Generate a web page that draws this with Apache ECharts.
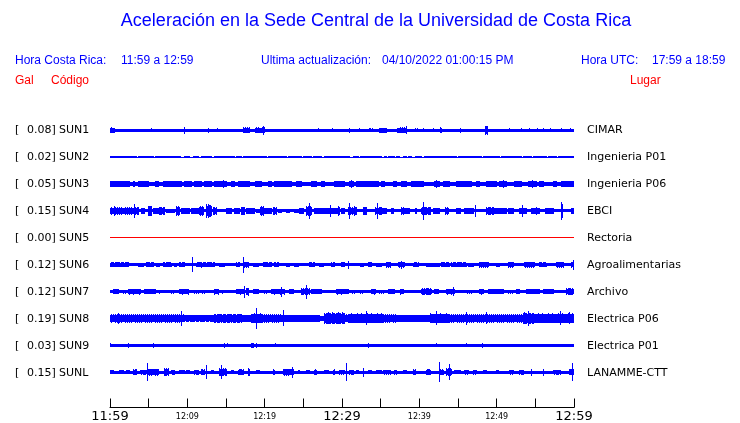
<!DOCTYPE html>
<html><head><meta charset="utf-8">
<script src="https://cdn.jsdelivr.net/npm/echarts@6/dist/echarts.min.js"></script>
<style>html,body{margin:0;padding:0;background:#fff}#c{width:740px;height:423px}</style>
</head><body><div id="c"></div>
<script>
// station metadata
var codes  = ['SUN1','SUN2','SUN3','SUN4','SUN5','SUN6','SUN7','SUN8','SUN9','SUNL'];
var galMax = ['0.08','0.02','0.05','0.15','0.00','0.12','0.12','0.19','0.03','0.15'];
var places = ['CIMAR','Ingenieria P01','Ingenieria P06','EBCI','Rectoria','Agroalimentarias','Archivo','Electrica P06','Electrica P01','LANAMME-CTT'];
// background trace half-amplitude (display units)
var baseAmp = [1.5, 0.5, 2, 1.7, 0, 1.5, 1.5, 2.5, 1.5, 1.5];
// minutes after 11:59 for the time axis
var tickMinutes = [0,5,10,15,20,25,30,35,40,45,50,55,60];
// burst events: [start minute, end minute, half-amplitude]
var sun1 = [[0,0.6,3],[5.4,5.4,2],[9.6,9.6,3.5],[12.8,12.8,2.5],[13.9,13.9,2],[17.3,18,3],[18.8,20,3],[19.8,19.8,4.5],[26.9,26.9,2],[28.8,28.8,2],[31,31,2.5],[32.3,32.3,2],[33.6,34,2],[34.9,35.8,2.5],[37.2,38.4,3],[38.3,38.3,4],[39.4,39.8,2],[40.6,40.6,2],[41.8,41.8,2],[42.7,42.9,3],[45.3,45.3,2.5],[48.6,48.8,5],[51.7,51.7,2],[53.2,53.2,2],[54.3,54.3,2],[55.3,55.3,2],[56,56,2],[56.9,56.9,2],[58.4,58.4,2],[59.5,59.5,2]];
var sun2 = [[0,0.43,1.2],[0.64,3.44,1.2],[3.66,5.6,1.2],[5.82,6.89,1.2],[7.11,8.19,1.2],[8.4,9.18,1.2],[9.69,10.34,1.2],[10.77,11.5,1.2],[11.85,13.14,1.2],[13.57,14.0,1.2],[14.22,16.16,1.2],[16.37,17.02,1.2],[17.24,19.82,1.2],[20.04,20.25,1.2],[20.47,22.84,1.2],[23.06,24.78,1.2],[24.99,26.07,1.2],[26.29,27.37,1.2],[27.8,30.38,1.2],[30.17,31.03,1.2],[31.46,32.11,1.2],[32.33,35.13,1.2],[35.56,35.77,1.2],[35.99,36.85,1.2],[37.07,37.5,1.2],[37.93,38.36,1.2],[38.58,39.01,1.2],[39.44,40.3,1.2],[40.73,44.83,1.2],[45.04,48.06,1.2],[48.27,49.57,1.2],[49.78,50.43,1.2],[50.64,53.23,1.2],[53.45,54.52,1.2],[54.74,55.38,1.2],[55.6,56.46,1.2],[56.68,57.76,1.2],[57.97,58.62,1.2],[58.83,60,1.2]];
var sun3 = [[0,2.58,3],[3.01,3.23,3],[3.66,4.95,3],[5.82,6.25,3],[6.89,9.26,3],[9.69,10.56,3],[10.99,11.85,3],[12.28,13.14,3],[13.57,15.08,3],[14.65,14.65,3.7],[15.73,16.16,3],[16.59,18.1,3],[18.75,19.61,3],[20.47,20.9,3],[21.33,23.49,3],[24.13,24.78,3],[26.07,26.72,3],[27.37,27.8,3],[29.09,30.38,3],[31.03,31.46,3],[31.25,31.25,3.7],[31.9,34.7,3],[35.13,35.56,3],[36.64,37.07,3],[37.71,38.36,3],[39.01,40.52,3],[42.02,42.67,3],[42.24,42.24,3.7],[43.1,43.96,3],[44.83,46.76,3],[47.41,47.84,3],[48.7,49.99,3],[50.43,51.29,3],[50.86,50.86,3.7],[52.37,53.23,3],[54.09,55.17,3],[54.65,54.65,3.7],[55.6,56.03,3],[57.32,57.76,3],[58.4,60,3]];
var sun4 = [[0,3.66,3.7],[0.64,0.64,5],[3.14,3.14,7.3],[3.66,3.66,4],[4.09,4.52,3.5],[4.95,5.38,5.5],[5.6,6.25,3.5],[6.46,7.11,4],[7.32,8.4,2.5],[8.62,9.05,5],[9.26,10.34,3.5],[10.56,11.42,3],[11.63,12.06,5],[12.5,13.14,7],[13.36,13.79,4],[15.08,15.73,3],[16.16,16.81,3],[17.02,17.45,4.5],[17.67,18.75,3],[18.96,19.39,2.5],[19.52,19.82,5],[20.04,20.9,3],[21.12,21.55,4],[21.76,22.19,2.5],[22.84,23.27,2.5],[23.92,24.35,2.5],[24.56,24.99,3],[25.43,26.07,5],[25.86,25.86,8],[26.5,27.58,3.5],[27.8,28.44,3],[28.57,28.57,6.5],[28.66,29.52,3.5],[29.52,29.74,5],[29.95,30.38,3],[30.82,31.9,4],[30.95,30.95,8.5],[31.68,31.68,5],[32.76,33.19,4.5],[34.27,35.13,4],[34.57,34.57,8],[35.13,35.77,3],[36.42,36.64,3],[37.71,37.93,4],[38.14,38.79,3],[39.44,39.65,3],[40.3,41.38,4],[40.52,40.52,9],[41.81,42.67,3],[43.32,43.75,4],[44.83,45.26,3],[45.9,46.98,3],[47.32,47.32,6],[48.7,49.57,4],[49.78,51.29,3],[51.51,52.15,3.5],[53.01,53.88,3.5],[53.36,53.36,6],[54.52,55.6,3],[55.17,55.17,4],[56.25,57.32,3.5],[58.32,58.49,10],[59.69,60,3]];
var sun5 = [];
var sun6 = [[0,2.37,2.5],[3.66,4.31,2],[4.74,5.6,2.5],[6.03,6.46,2],[6.89,7.97,2.5],[8.4,8.62,2],[9.05,9.69,2.5],[10.64,10.64,7.5],[11.2,13.57,2.5],[11.85,11.85,3],[14.22,14.87,2],[16.37,16.81,2.5],[17.24,17.24,8],[17.37,17.88,3],[18.53,19.18,2],[19.82,20.9,2.5],[21.33,21.76,2.5],[22.84,23.27,2],[23.92,24.35,2],[25.86,26.5,2.5],[27.15,27.58,2],[28.66,29.09,2.5],[29.95,30.38,2.5],[30.82,30.82,4],[32.33,32.76,2],[33.4,33.83,2.5],[34.48,35.13,2],[35.77,36.21,3],[37.28,38.14,3],[37.7,37.7,4],[39.22,39.87,2.5],[40.95,42.67,2],[42.89,43.96,2.5],[44.18,46.12,2.5],[46.33,46.98,2],[47.84,48.92,3],[49.99,50.43,2],[51.51,52.15,3],[53.66,54.95,3],[55.6,56.46,2.5],[57.76,58.62,3],[59.69,60,3],[59.91,59.91,5]];
var sun7 = [[0.43,1.07,2.5],[1.72,2.15,2],[2.37,3.88,3],[4.52,5.82,2.5],[6.25,6.46,2],[7.97,8.4,2],[9.05,10.13,3],[10.99,11.42,2],[11.85,12.28,2],[13.57,14.0,3],[14.44,14.65,2],[16.37,17.45,3],[17.45,17.45,6],[17.67,17.88,4],[18.53,19.18,2.5],[20.04,20.25,2],[20.9,22.62,3],[22.19,22.19,5],[23.27,23.7,2.5],[24.78,25.86,3.5],[25.43,25.43,7],[26.07,27.37,2.5],[29.3,30.38,3],[29.74,30.82,2.5],[31.25,31.68,2],[32.33,32.76,2],[33.83,34.27,3],[34.91,35.34,2],[35.99,36.85,2.5],[37.5,37.93,3],[40.3,41.59,3.5],[42.02,42.45,2.5],[43.53,44.61,3],[44.39,44.39,4.5],[46.12,46.76,2],[47.84,48.27,3],[48.92,50.86,2.5],[51.51,52.15,2],[52.58,53.01,2.5],[53.88,55.6,2.5],[56.03,57.32,2.5],[59.05,59.91,3.5]];
var sun8 = [[0,9.69,4.2],[1.07,1.07,5.5],[9.26,9.26,7.5],[9.69,13.57,3.3],[13.57,17.02,4.5],[17.02,18.31,3.8],[18.31,19.61,5],[18.96,18.96,11],[19.61,22.19,4.2],[22.41,22.41,8],[22.19,27.15,3.7],[27.8,30.38,6],[29.74,31.03,4.2],[31.03,35.34,5],[33.19,33.19,7],[35.34,37.07,4.2],[37.07,41.38,3.7],[41.38,43.96,5],[42.24,42.24,7],[43.96,53.45,4.2],[46.12,46.12,6.5],[48.7,48.7,6],[53.45,54.74,6],[54.09,54.09,7.5],[54.74,60,5],[58.19,58.19,7],[59.48,59.48,6]];
var sun9 = [[0.08,0.08,2],[2.37,2.37,2.5],[5.6,5.6,2.5],[14.78,14.78,2.5],[15.21,15.21,2],[18.31,18.62,2.5],[18.96,18.96,2.5],[21.42,21.42,2],[33.4,33.4,2.5],[42.24,42.24,2],[46.12,46.12,2],[48.14,48.14,2.5]];
var sunl = [[0,0.43,2],[1.29,1.72,2],[2.15,2.58,2],[3.01,3.44,3],[3.88,4.74,2.5],[4.9,4.9,9],[4.95,6.25,3.5],[7.11,7.54,4],[7.97,8.4,2.5],[9.05,9.69,2],[9.91,10.34,2],[10.99,11.42,2.5],[11.85,12.28,3],[12.5,12.5,7],[13.14,13.36,2],[14.22,15.08,4],[14.44,14.44,7],[15.73,15.94,2],[16.59,17.24,3],[17.88,18.1,4],[18.96,19.39,2],[21.12,21.33,3],[22.41,23.7,3.5],[23.57,23.57,5.5],[24.35,24.56,2],[25.43,25.86,2],[26.5,26.72,3],[27.8,28.23,2],[28.87,29.09,3],[29.74,30.38,2.5],[30.6,30.6,9],[31.03,31.46,2.5],[31.9,32.11,2],[32.76,32.76,4.5],[33.4,33.83,2],[34.48,35.13,2],[35.34,36.21,2.5],[36.85,37.07,2.5],[37.93,38.36,2],[39.22,39.44,3],[40.95,41.38,3],[42.58,42.58,10],[42.67,43.1,3],[43.53,44.18,4],[43.88,43.88,8],[44.61,45.26,2],[45.9,46.33,2.5],[46.98,47.41,2.5],[48.27,48.7,2],[49.99,50.21,2],[51.72,52.15,2.5],[53.01,53.45,2.5],[54.52,54.52,3.5],[56.03,56.03,3.5],[57.32,58.19,2.5],[59.48,59.91,3],[59.78,59.78,9]];
var events = [sun1,sun2,sun3,sun4,sun5,sun6,sun7,sun8,sun9,sunl];

var BLUE = '#0000ff', RED = '#ff0000';
var chart = echarts.init(document.getElementById('c'), null, {renderer:'canvas'});
var ROW = 27, FIRST = 20.5; // row spacing in y-axis display units
// ragged-edge rendering pattern for bursts (purely visual texture)
var RAG = [1, 0.75, 0.95, 0.65, 1, 0.8, 0.9, 0.7, 0.95, 0.85];

function makeSeries(i){
  var color = codes[i] === 'SUN5' ? RED : BLUE;
  var center = FIRST + i*ROW;
  var data = [[0, 60, baseAmp[i]]].concat(events[i]);
  return {
    type:'custom', silent:true, clip:false,
    encode:{x:[0,1]},
    data:data,
    renderItem:function(params, api){
      var t0 = api.value(0), t1 = api.value(1), amp = api.value(2);
      var p0 = api.coord([t0, center]), p1 = api.coord([t1, center]);
      var a = api.size([0, amp])[1];
      var b = api.size([0, baseAmp[i]])[1];
      var cy = p0[1];
      if (params.dataIndex === 0) {
        var h = Math.max(2*a, 1);
        var y0 = Math.round(cy - h/2);
        return {type:'rect', shape:{x:p0[0], y:y0, width:p1[0]-p0[0], height:Math.max(Math.round(h),1)}, style:{fill:color}};
      }
      var xs = Math.floor(p0[0]), xe = Math.max(Math.ceil(p1[0]), xs+1);
      var kids = [];
      var n = xe - xs;
      for (var k=0;k<n;k++){
        var f = n === 1 ? 1 : RAG[(k + params.dataIndex*3) % RAG.length];
        var half = b + (a - b)*f;
        var yt = Math.round(cy - half), yb = Math.round(cy + half);
        kids.push({type:'rect', shape:{x:xs+k, y:yt, width:1, height:Math.max(yb-yt,1)}, style:{fill:color}});
      }
      return {type:'group', children:kids};
    }
  };
}

var graphics = [
  {type:'text', x:376, y:21, style:{text:'Aceleración en la Sede Central de la Universidad de Costa Rica', fill:BLUE, font:'18px "Liberation Sans", Arial, sans-serif', textAlign:'center', verticalAlign:'middle'}},
  {type:'text', x:15, y:61, style:{text:'Hora Costa Rica:', fill:BLUE, font:'12px "Liberation Sans"', verticalAlign:'middle'}},
  {type:'text', x:121, y:61, style:{text:'11:59 a 12:59', fill:BLUE, font:'12px "Liberation Sans"', verticalAlign:'middle'}},
  {type:'text', x:261, y:61, style:{text:'Ultima actualización:', fill:BLUE, font:'12px "Liberation Sans"', verticalAlign:'middle'}},
  {type:'text', x:382, y:61, style:{text:'04/10/2022 01:00:15 PM', fill:BLUE, font:'12px "Liberation Sans"', verticalAlign:'middle'}},
  {type:'text', x:581, y:61, style:{text:'Hora UTC:', fill:BLUE, font:'12px "Liberation Sans"', verticalAlign:'middle'}},
  {type:'text', x:652, y:61, style:{text:'17:59 a 18:59', fill:BLUE, font:'12px "Liberation Sans"', verticalAlign:'middle'}},
  {type:'text', x:15, y:81, style:{text:'Gal', fill:RED, font:'12px "Liberation Sans"', verticalAlign:'middle'}},
  {type:'text', x:51, y:81, style:{text:'Código', fill:RED, font:'12px "Liberation Sans"', verticalAlign:'middle'}},
  {type:'text', x:630, y:81, style:{text:'Lugar', fill:RED, font:'12px "Liberation Sans"', verticalAlign:'middle'}}
];
for (var i=0;i<codes.length;i++){
  var y = 110 + FIRST + i*ROW;
  graphics.push({type:'text', x:15, y:y, style:{text:'[', fill:'#000', font:'11px "DejaVu Sans"', verticalAlign:'middle'}});
  graphics.push({type:'text', x:27, y:y, style:{text:galMax[i]+']', fill:'#000', font:'11px "DejaVu Sans"', verticalAlign:'middle'}});
  graphics.push({type:'text', x:59, y:y, style:{text:codes[i], fill:'#000', font:'11px "DejaVu Sans"', verticalAlign:'middle'}});
  graphics.push({type:'text', x:587, y:y, style:{text:places[i], fill:'#000', font:'11px "DejaVu Sans"', verticalAlign:'middle'}});
}

function fmtTime(v){
  var m = 11*60 + 59 + v;
  var h = Math.floor(m/60), mm = m % 60;
  return h + ':' + (mm<10?'0':'') + mm;
}

chart.setOption({
  animation:false,
  backgroundColor:'#fff',
  grid:{left:110, width:464, top:110, height:299},
  xAxis:{type:'value', min:0, max:60, interval:5, position:'bottom',
    axisLine:{show:true, onZero:false, lineStyle:{color:'#000', width:1}},
    axisTick:{show:true, inside:true, length:9, lineStyle:{color:'#000', width:1}},
    splitLine:{show:false},
    axisLabel:{show:true, margin:2, showMinLabel:true, showMaxLabel:true, hideOverlap:false,
      formatter:function(v){
        if (tickMinutes.indexOf(v) < 0 || v % 10 !== 0) return '';
        var s = fmtTime(v);
        return (v % 30 === 0) ? '{b|'+s+'}' : '{s|'+s+'}';
      },
      rich:{
        b:{fontSize:13, fontFamily:'DejaVu Sans', color:'#000', lineHeight:14},
        s:{fontSize:8, fontFamily:'DejaVu Sans', color:'#000', lineHeight:14}
      }
    }
  },
  yAxis:{type:'value', min:0, max:299, inverse:true, show:false},
  series: codes.map(function(c,i){return makeSeries(i);}),
  graphic: graphics
});
</script></body></html>
